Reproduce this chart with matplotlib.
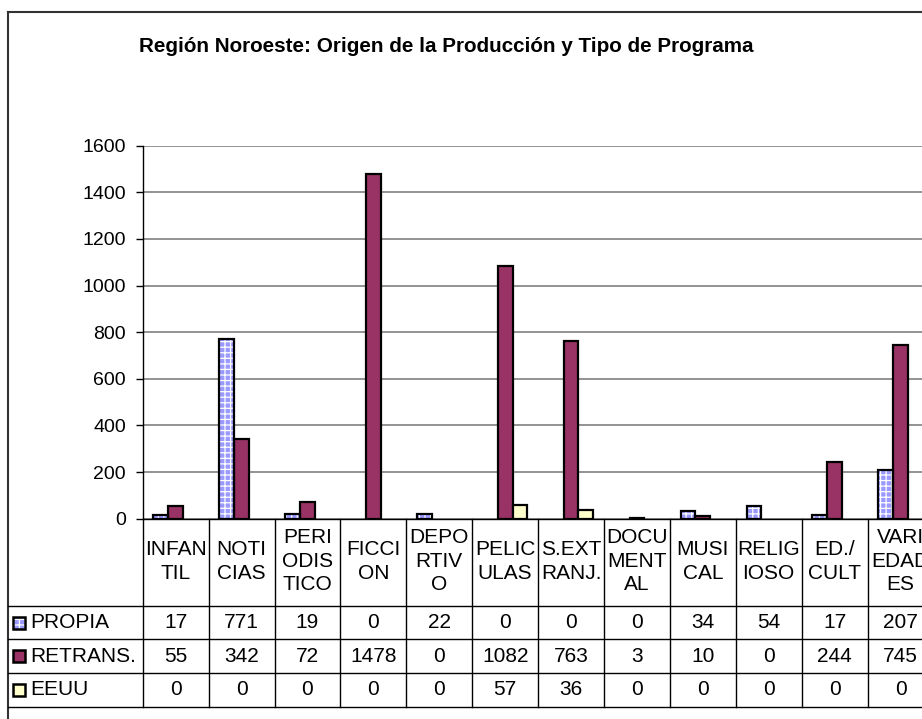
import matplotlib
matplotlib.use('Agg')
import matplotlib.pyplot as plt
from matplotlib.patches import Rectangle
from matplotlib.lines import Line2D
from matplotlib.transforms import blended_transform_factory
import numpy as np

plt.rcParams['font.family'] = ['Liberation Sans', 'DejaVu Sans']
plt.rcParams['hatch.linewidth'] = 0.9

# Datos
categorias = ["INFAN\nTIL", "NOTI\nCIAS", "PERI\nODIS\nTICO", "FICCI\nON", "DEPO\nRTIV\nO",
              "PELIC\nULAS", "S.EXT\nRANJ.", "DOCU\nMENT\nAL", "MUSI\nCAL", "RELIG\nIOSO",
              "ED./\nCULT", "VARI\nEDAD\nES"]
series = ["PROPIA", "RETRANS.", "EEUU"]
propia = [17, 771, 19, 0, 22, 0, 0, 0, 34, 54, 17, 207]
retrans = [55, 342, 72, 1478, 0, 1082, 763, 3, 10, 0, 244, 745]
eeuu = [0, 0, 0, 0, 0, 57, 36, 0, 0, 0, 0, 0]
yticks = [0, 200, 400, 600, 800, 1000, 1200, 1400, 1600]
titulo = "Región Noroeste: Origen de la Producción y Tipo de Programa"

W, H = 922, 719
fig = plt.figure(figsize=(W / 100, H / 100), dpi=100)

def fx(p):
    return p / W

def fy(p):
    return 1 - p / H

# marco exterior
fig.add_artist(Line2D([fx(7.5), fx(7.5)], [fy(12), 0], color='#333333', lw=1.5, transform=fig.transFigure))
fig.add_artist(Line2D([fx(7.5), 1], [fy(12), fy(12)], color='#333333', lw=1.5, transform=fig.transFigure))

fig.text(fx(446), fy(46), titulo, ha='center', va='center', fontsize=14.9, fontweight='bold')

ax = fig.add_axes([fx(142.7), fy(518.7), fx(933.5 - 142.7), (518.7 - 145.7) / H])
ax.set_xlim(-0.5, len(categorias) - 0.5)
ax.set_ylim(0, 1600)

x = np.arange(len(categorias))
w = 0.225
valores = [propia, retrans, eeuu]
colores = ['#9999ff', '#993366', '#ffffcc']

def nz(v):
    v = np.array(v)
    return v != 0, v

# PROPIA con patron a cuadros (los ceros no se dibujan)
m, v = nz(propia)
ax.bar(x[m] - w, v[m], w, color=colores[0], edgecolor='white', hatch='+++', lw=0, zorder=3)
ax.bar(x[m] - w, v[m], w, fill=False, edgecolor='black', lw=1.6, zorder=4)
m, v = nz(retrans)
ax.bar(x[m], v[m], w, color=colores[1], edgecolor='black', lw=1.6, zorder=3)
m, v = nz(eeuu)
ax.bar(x[m] + w, v[m], w, color=colores[2], edgecolor='black', lw=1.6, zorder=3)

ax.set_yticks(yticks)
ax.set_yticklabels([str(t) for t in yticks], fontsize=14)
ax.yaxis.grid(True, color='#808080', lw=1.2)
ax.set_axisbelow(True)
ax.tick_params(axis='y', length=5, width=1, color='black', pad=7)
ax.set_xticks([])
for s in ['top', 'right']:
    ax.spines[s].set_visible(False)
ax.spines['left'].set_linewidth(1)
ax.spines['bottom'].set_linewidth(1)

# tabla de datos
tr = blended_transform_factory(ax.transData, fig.transFigure)
filas_y = [518.7, 606, 639.3, 672.7, 706.7]
for yp in filas_y[1:]:
    fig.add_artist(Line2D([fx(7.5), 1], [fy(yp), fy(yp)], color='black', lw=1, transform=fig.transFigure))
for b in np.arange(len(categorias) + 1) - 0.5:
    fig.add_artist(Line2D([b, b], [fy(518.7), fy(706.7)], color='black', lw=1, transform=tr))

for i, c in enumerate(categorias):
    fig.text(x[i], fy((518.7 + 606) / 2 - 1), c, ha='center', va='center', fontsize=15,
             linespacing=1.3, transform=tr)
    for j, val in enumerate(valores):
        yc = (filas_y[j + 1] + filas_y[j + 2]) / 2
        fig.text(x[i], fy(yc), str(val[i]), ha='center', va='center', fontsize=15, transform=tr)

for j, nombre in enumerate(series):
    yc = (filas_y[j + 1] + filas_y[j + 2]) / 2
    r = (fx(13), fy(yc + 6))
    if j == 0:
        fig.add_artist(Rectangle(r, fx(12), 12 / H, facecolor=colores[0],
                                 edgecolor='white', hatch='+++', lw=0, transform=fig.transFigure))
        fig.add_artist(Rectangle(r, fx(12), 12 / H, fill=False,
                                 edgecolor='black', lw=1.8, transform=fig.transFigure))
    else:
        fig.add_artist(Rectangle(r, fx(12), 12 / H, facecolor=colores[j],
                                 edgecolor='black', lw=1.8, transform=fig.transFigure))
    fig.text(fx(30), fy(yc), nombre, ha='left', va='center', fontsize=15)

fig.savefig('out.png', dpi=100)
